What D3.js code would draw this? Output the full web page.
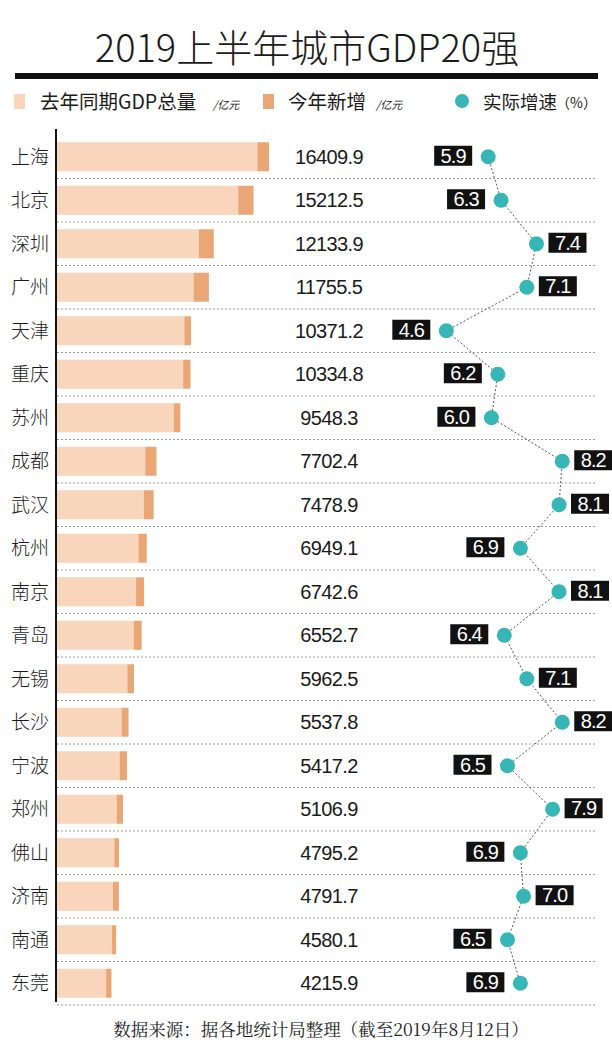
<!DOCTYPE html>
<html lang="zh">
<head>
  <meta charset="UTF-8">
  <title>2019上半年城市GDP20强</title>
  <script src="https://d3js.org/d3.v7.min.js"></script>
  <style>
    body {
      margin: 0;
      padding: 0;
      background: #fff;
    }
    svg {
      display: block;
    }
    .cjk {
      font-family: "Noto Sans CJK SC", sans-serif;
    }
    .num {
      font-family: "Liberation Sans", Arial, sans-serif;
    }
  </style>
</head>
<body>
  <svg id="chart" width="612" height="1044"></svg>

  <script>
    const width = 612, height = 1044;

    const cities = ["上海", "北京", "深圳", "广州", "天津", "重庆", "苏州", "成都", "武汉", "杭州",
                    "南京", "青岛", "无锡", "长沙", "宁波", "郑州", "佛山", "济南", "南通", "东莞"];
    const gdp = [16409.9, 15212.5, 12133.9, 11755.5, 10371.2, 10334.8, 9548.3, 7702.4, 7478.9, 6949.1,
                 6742.6, 6552.7, 5962.5, 5537.8, 5417.2, 5106.9, 4795.2, 4791.7, 4580.1, 4215.9];
    const added = [905, 1185, 1160, 1185, 515, 570, 515, 875, 750, 645,
                   620, 620, 515, 540, 570, 490, 360, 465, 335, 415];
    const growth = [5.9, 6.3, 7.4, 7.1, 4.6, 6.2, 6.0, 8.2, 8.1, 6.9,
                    8.1, 6.4, 7.1, 8.2, 6.5, 7.9, 6.9, 7.0, 6.5, 6.9];

    const lightColor = "#f8d5bb";
    const darkColor = "#eba676";
    const teal = "#36b6b6";

    const rows = cities.map((c, i) => ({
      city: c, gdp: gdp[i], last: gdp[i] - added[i], growth: growth[i]
    }));

    const svg = d3.select("#chart");

    const y = d3.scaleBand()
      .domain(cities)
      .range([135, 1005])
      .paddingInner(1 / 3)
      .paddingOuter(1 / 6);

    const x = d3.scaleLinear()
      .domain([0, d3.max(gdp)])
      .range([57, 269]);

    const gx = d3.scaleLinear()
      .domain([4, 9])
      .range([427, 588]);

    const cy = d => y(d.city) + y.bandwidth() / 2;

    // title
    svg.append("text")
      .attr("class", "cjk")
      .attr("x", 307)
      .attr("y", 62)
      .attr("text-anchor", "middle")
      .style("font-size", "38px")
      .style("font-weight", 300)
      .attr("fill", "#1a1a1a")
      .text("2019上半年城市GDP20强");

    svg.append("rect")
      .attr("x", 15).attr("y", 73)
      .attr("width", 583).attr("height", 6)
      .attr("fill", "#111");

    // legend
    const lg = svg.append("g").attr("class", "cjk").style("font-size", "19.5px").attr("fill", "#1a1a1a");
    lg.append("rect").attr("x", 14).attr("y", 94).attr("width", 11).attr("height", 15).attr("fill", lightColor);
    lg.append("text").attr("x", 40).attr("y", 109).text("去年同期GDP总量");
    lg.append("text").attr("x", 213).attr("y", 109).style("font-size", "11px").style("font-style", "italic").text("/亿元");
    lg.append("rect").attr("x", 263).attr("y", 94).attr("width", 11).attr("height", 15).attr("fill", darkColor);
    lg.append("text").attr("x", 288).attr("y", 109).text("今年新增");
    lg.append("text").attr("x", 376).attr("y", 109).style("font-size", "11px").style("font-style", "italic").text("/亿元");
    lg.append("circle").attr("cx", 462).attr("cy", 101).attr("r", 7).attr("fill", teal);
    lg.append("text").attr("x", 483).attr("y", 109).style("font-size", "18.5px").text("实际增速");
    lg.append("text").attr("x", 556).attr("y", 108).style("font-size", "14px").text("（%）");

    // dotted separators
    svg.append("g")
      .selectAll("line")
      .data(rows)
      .join("line")
      .attr("x1", 57).attr("x2", 596)
      .attr("y1", d => y(d.city) + y.bandwidth() / 2 + y.step() / 2)
      .attr("y2", d => y(d.city) + y.bandwidth() / 2 + y.step() / 2)
      .attr("stroke", "#9a9a9a")
      .attr("stroke-width", 1)
      .attr("stroke-dasharray", "2,2");

    // bars
    const bars = svg.append("g");
    bars.selectAll("rect.last")
      .data(rows)
      .join("rect")
      .attr("class", "last")
      .attr("x", x(0))
      .attr("y", d => y(d.city))
      .attr("width", d => x(d.last) - x(0))
      .attr("height", y.bandwidth())
      .attr("fill", lightColor);
    bars.selectAll("rect.added")
      .data(rows)
      .join("rect")
      .attr("class", "added")
      .attr("x", d => x(d.last))
      .attr("y", d => y(d.city))
      .attr("width", d => x(d.gdp) - x(d.last))
      .attr("height", y.bandwidth())
      .attr("fill", darkColor);

    // vertical axis line
    svg.append("line")
      .attr("x1", 56).attr("x2", 56)
      .attr("y1", 129).attr("y2", 1002)
      .attr("stroke", "#111")
      .attr("stroke-width", 2);

    // city names
    svg.append("g")
      .selectAll("text")
      .data(rows)
      .join("text")
      .attr("class", "cjk")
      .attr("x", 49)
      .attr("y", d => cy(d))
      .attr("dy", "0.36em")
      .attr("text-anchor", "end")
      .style("font-size", "19px")
      .style("font-weight", 300)
      .attr("fill", "#1a1a1a")
      .text(d => d.city);

    // GDP values
    svg.append("g")
      .selectAll("text")
      .data(rows)
      .join("text")
      .attr("class", "num")
      .attr("x", 329)
      .attr("y", d => cy(d))
      .attr("dy", "0.36em")
      .attr("text-anchor", "middle")
      .style("font-size", "20px")
      .style("letter-spacing", "-0.6px")
      .attr("fill", "#1a1a1a")
      .text(d => d3.format(".1f")(d.gdp));

    // growth line
    const line = d3.line()
      .x(d => gx(d.growth))
      .y(d => cy(d));

    svg.append("path")
      .datum(rows)
      .attr("d", line)
      .attr("fill", "none")
      .attr("stroke", "#555")
      .attr("stroke-width", 1)
      .attr("stroke-dasharray", "2,2");

    svg.append("g")
      .selectAll("circle")
      .data(rows)
      .join("circle")
      .attr("cx", d => gx(d.growth))
      .attr("cy", d => cy(d))
      .attr("r", 7.5)
      .attr("fill", teal);

    // growth labels
    const boxW = 38, boxH = 20;
    const labelX = d => d.growth >= 7 ? gx(d.growth) + 12 : gx(d.growth) - 16 - boxW;
    const lab = svg.append("g")
      .selectAll("g")
      .data(rows)
      .join("g")
      .attr("transform", d => `translate(${labelX(d)},${cy(d) - boxH / 2 - 1})`);
    lab.append("rect")
      .attr("width", boxW)
      .attr("height", boxH)
      .attr("fill", "#111");
    lab.append("text")
      .attr("class", "num")
      .attr("x", boxW / 2)
      .attr("y", boxH / 2)
      .attr("dy", "0.36em")
      .attr("text-anchor", "middle")
      .style("font-size", "20px")
      .style("letter-spacing", "-0.9px")
      .attr("fill", "#fff")
      .text(d => d3.format(".1f")(d.growth));

    // source note
    svg.append("text")
      .attr("x", 321)
      .attr("y", 1036)
      .attr("text-anchor", "middle")
      .style("font-family", "\"Noto Serif CJK SC\", \"Noto Sans CJK SC\", serif")
      .style("font-size", "17.5px")
      .attr("fill", "#222")
      .text("数据来源：据各地统计局整理（截至2019年8月12日）");
  </script>
</body>
</html>
